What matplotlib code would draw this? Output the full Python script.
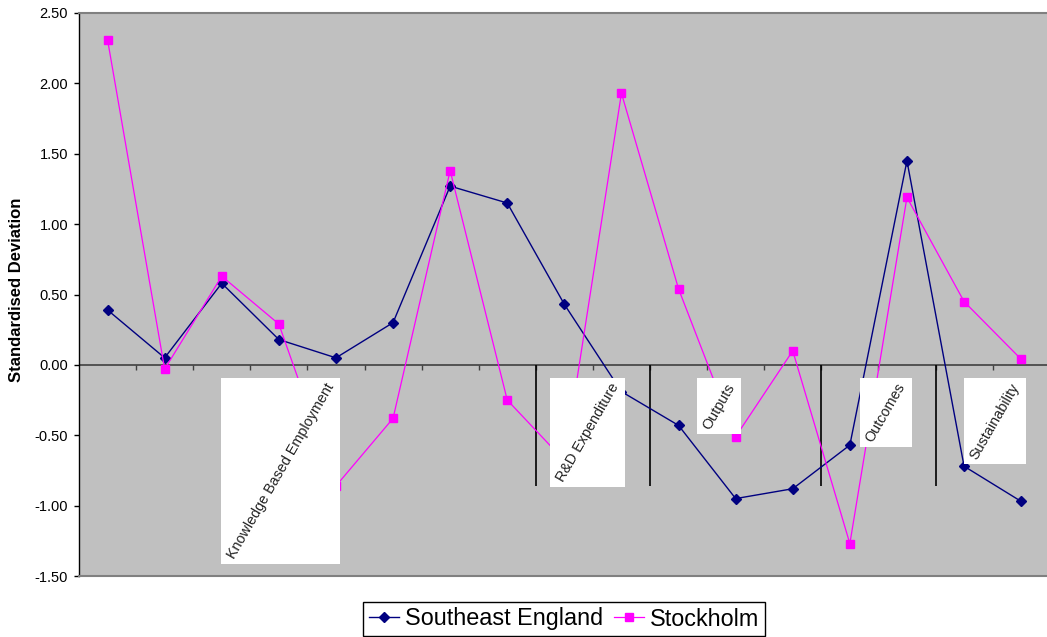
import numpy as np
import matplotlib
matplotlib.use("Agg")
import matplotlib.pyplot as plt
from matplotlib.lines import Line2D
from matplotlib.patches import Rectangle

plt.rcParams["font.family"] = ["Liberation Sans", "DejaVu Sans"]

# Indicator values (standardised deviation from the mean)
indicators = list(range(1, 18))
southeast_england = [0.39, 0.05, 0.58, 0.18, 0.05, 0.30, 1.27, 1.15, 0.43, -0.19,
                     -0.43, -0.95, -0.88, -0.57, 1.45, -0.72, -0.97]
stockholm = [2.31, -0.03, 0.63, 0.29, -0.86, -0.38, 1.38, -0.25, -0.68, 1.93,
             0.54, -0.51, 0.10, -1.27, 1.19, 0.45, 0.04]
series_names = ["Southeast England", "Stockholm"]

# Indicator groups
group_labels = ["Knowledge Based Employment", "R&D Expenditure", "Outputs",
                "Outcomes", "Sustainability"]
y_ticks = [-1.50, -1.00, -0.50, 0.00, 0.50, 1.00, 1.50, 2.00, 2.50]

W, H = 1047, 637
fig = plt.figure(figsize=(W / 100, H / 100), dpi=100)
cat_w = 57.1
ax = fig.add_axes([79 / W, (H - 576) / H, 17 * cat_w / W, 563 / H])
ax.set_facecolor("#C0C0C0")

x = np.arange(len(indicators))
ax.plot(x, southeast_england, color="#000080", lw=1.0, marker="D", ms=4.6,
        mfc="#000080", mec="#000080", zorder=3, label=series_names[0])
ax.plot(x, stockholm, color="#FF00FF", lw=0.9, marker="s", ms=5.8,
        mfc="#FF00FF", mec="#FF00FF", zorder=3, label=series_names[1])

ax.set_xlim(-0.5, len(indicators) - 0.5)
ax.set_ylim(-1.5, 2.5)
ax.set_xticks([])
ax.set_yticks(y_ticks)
ax.set_yticklabels([f"{t:.2f}" for t in y_ticks])
ax.tick_params(axis="y", direction="out", length=3.6, width=1.0, pad=4.3,
               labelsize=10.5, colors="black")

for side in ("top", "bottom", "right"):
    ax.spines[side].set_color("#808080")
    ax.spines[side].set_linewidth(1.5)
ax.spines["left"].set_color("black")
ax.spines["left"].set_linewidth(1.0)

# category axis through zero, with small ticks between categories
ax.axhline(0, color="#404040", lw=1.2, zorder=2)
px_per_unit = 563 / 4.0
boundaries = np.arange(0.5, len(indicators) - 0.5, 1.0)
ax.vlines(boundaries, -5 / px_per_unit, 0, color="#404040", lw=1.0, zorder=2)

# group separators
separators = [7.5, 9.5, 12.5, 14.5]
ax.vlines(separators, -121 / px_per_unit, 0, color="black", lw=1.2, zorder=2)

fig.text(17 / W, 1 - 290 / H, "Standardised Deviation", rotation=90,
         ha="center", va="center", fontsize=12, fontweight="bold")

# group labels on white boxes
label_x = [3.03, 8.41, 10.71, 13.63, 15.54]
label_top = -16 / px_per_unit
texts = []
for lx, lab in zip(label_x, group_labels):
    t = ax.text(lx, label_top, lab, rotation=60, ha="center", va="top",
                fontsize=10.4, color="#222222", zorder=6)
    texts.append(t)

fig.canvas.draw()
renderer = fig.canvas.get_renderer()
inv = ax.transAxes.inverted()
pad_x, pad_y = 3.5, 2.5
for t in texts:
    bb = t.get_window_extent(renderer)
    (x0, y0), (x1, y1) = inv.transform([[bb.x0 - pad_x, bb.y0 - pad_y],
                                        [bb.x1 + pad_x, bb.y1 + pad_y]])
    ax.add_patch(Rectangle((x0, y0), x1 - x0, y1 - y0, transform=ax.transAxes,
                           facecolor="white", edgecolor="none", zorder=5))

handles = [
    Line2D([], [], color="#000080", lw=1.0, marker="D", ms=4.6),
    Line2D([], [], color="#FF00FF", lw=0.9, marker="s", ms=5.8),
]
leg = fig.legend(handles, series_names, loc="center",
                 bbox_to_anchor=(564 / W, 1 - 619 / H), ncol=2, fontsize=16.8,
                 frameon=True, fancybox=False, framealpha=1, edgecolor="black",
                 borderpad=0.25, handlelength=1.3, handletextpad=0.25,
                 columnspacing=0.45, borderaxespad=0)
leg.get_frame().set_linewidth(1.0)

fig.savefig("out.png", dpi=100)
